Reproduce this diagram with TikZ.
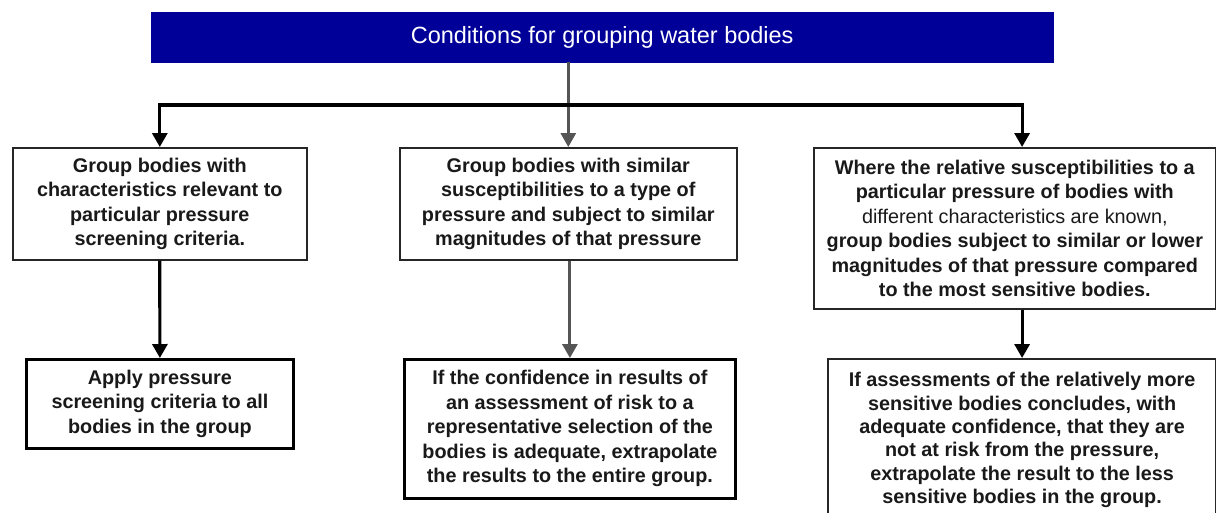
\documentclass[tikz,border=0pt]{standalone}
\usepackage{fontspec}
\setmainfont{Liberation Sans}
\usetikzlibrary{arrows.meta}
\definecolor{titleblue}{RGB}{0,0,153}
\definecolor{linegray}{RGB}{85,85,85}
\begin{document}
\begin{tikzpicture}[x=1pt,y=-1pt,
  boxtop/.style={draw=black!85, line width=1.6pt, fill=white, anchor=north west, align=center, inner sep=0pt,
     font=\fontsize{19.8}{24.5}\selectfont\bfseries, text=black!90},
  boxbot/.style={boxtop, line width=2.8pt, draw=black},
  titlebox/.style={fill=titleblue, draw=titleblue, anchor=north west, inner sep=0pt,
     font=\fontsize{23.5}{28}\selectfont, text=white},
  blk/.style={draw=black, line width=3.2pt},
  gry/.style={draw=linegray, line width=3pt},
  tip/.style={-{Triangle[length=14pt,width=15pt]}},
  tips/.style={{Triangle[length=14pt,width=15pt]}-{Triangle[length=14pt,width=15pt]}}
]
\useasboundingbox (0,0) rectangle (1216,512);
\clip (0,0) rectangle (1216,512);
\fill[white] (0,0) rectangle (1216,512);

\node[titlebox, minimum width=902pt, minimum height=50pt] (t) at (151,12) {Conditions for grouping water bodies};

\node[boxtop, minimum width=294pt, minimum height=112pt] (b1) at (12,147)
  {Group bodies with\\characteristics relevant to\\particular pressure\\screening criteria.};
\node[boxtop, minimum width=337pt, minimum height=112pt] (b2) at (399,147)
  {Group bodies with similar\\susceptibilities to a type of\\pressure and subject to similar\\magnitudes of that pressure};
\node[boxtop, minimum width=402pt, minimum height=161pt] (b3) at (813,147)
  {Where the relative susceptibilities to a\\particular pressure of bodies with\\{\mdseries different characteristics are known,}\\group bodies subject to similar or lower\\magnitudes of that pressure compared\\to the most sensitive bodies.};

\node[boxbot, minimum width=267pt, minimum height=89pt] (b1b) at (25,358)
  {Apply pressure\\screening criteria to all\\bodies in the group};
\node[boxbot, minimum width=331pt, minimum height=139pt] (b2b) at (403,358)
  {If the confidence in results of\\an assessment of risk to a\\representative selection of the\\bodies is adequate, extrapolate\\the results to the entire group.};
\node[boxtop, line width=2.2pt, minimum width=388pt, minimum height=162pt,
      font=\fontsize{19.8}{23.4}\selectfont\bfseries] (b3b) at (827,358)
  {If assessments of the relatively more\\sensitive bodies concludes, with\\adequate confidence, that they are\\not at risk from the pressure,\\extrapolate the result to the less\\sensitive bodies in the group.};

\coordinate (j) at (567.5,105);
\coordinate (b3in) at (b3b.north |- b3.north);
\coordinate (b3out) at (b3b.north |- b3.south);

% trunk from title
\draw[gry, tip] (t.south -| b2.north) -- (b2.north);
% branch line
\draw[blk, tips] (b1.north) |- (j) -| (b3in);
% lower arrows
\draw[blk, tip] (b1.south) -- (b1b.north);
\draw[gry, tip] (b2.south -| b2b.north) -- (b2b.north);
\draw[blk, tip] (b3out) -- (b3b.north);
\end{tikzpicture}
\end{document}
